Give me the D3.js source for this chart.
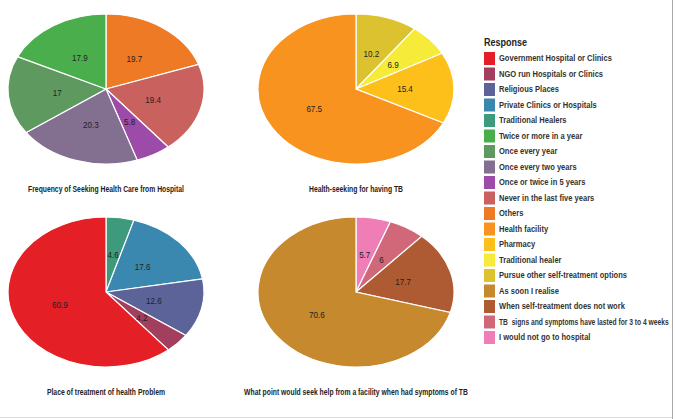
<!DOCTYPE html>
<html>
<head>
<meta charset="utf-8">
<script src="https://cdn.jsdelivr.net/npm/d3@7"></script>
<style>
    body { margin: 0; background: #fff; }
    svg { display: block; }
    text { font-family: "Liberation Sans", Arial, sans-serif; }
    .slice-label { font-size: 9.5px; fill: #222; }
    .pie-title { font-size: 8.5px; font-weight: bold; fill: #222; }
    .legend-title { font-size: 11px; font-weight: bold; fill: #222; }
    .legend-text { font-size: 8.5px; font-weight: bold; fill: #333; white-space: pre; }
</style>
</head>
<body>
<div class="chart"></div>
<script>
(function() {
    // legend categories, in legend order
    var responses = [
        "Government Hospital or Clinics",
        "NGO run Hospitals or Clinics",
        "Religious Places",
        "Private Clinics or Hospitals",
        "Traditional Healers",
        "Twice or more in a year",
        "Once every year",
        "Once every two years",
        "Once or twice in 5 years",
        "Never in the last five years",
        "Others",
        "Health facility",
        "Pharmacy",
        "Traditional healer",
        "Pursue other self-treatment options",
        "As soon I realise",
        "When self-treatment does not work",
        "TB  signs and symptoms have lasted for 3 to 4 weeks",
        "I would not go to hospital"
    ];
    var responseColors = [
        "#e41f26", "#a33f5e", "#5c6399", "#3a88b0", "#3e9a7d",
        "#4aae4d", "#5e9a60", "#836f90", "#9c4ba8", "#c9615e",
        "#ee7a26", "#f7931e", "#fdbf1a", "#f5eb38", "#ddc22f",
        "#c6892e", "#ae5a32", "#d0687a", "#ee7eb5"
    ];

    // chart 1: frequency of seeking health care
    var freqCategories = ["Twice or more in a year", "Once every year", "Once every two years",
        "Once or twice in 5 years", "Never in the last five years", "Others"];
    var freqValues = [17.9, 17, 20.3, 5.8, 19.4, 19.7];

    // chart 2: health-seeking for TB
    var tbCategories = ["Health facility", "Pharmacy", "Traditional healer", "Pursue other self-treatment options"];
    var tbValues = [67.5, 15.4, 6.9, 10.2];

    // chart 3: place of treatment
    var placeCategories = ["Government Hospital or Clinics", "NGO run Hospitals or Clinics",
        "Religious Places", "Private Clinics or Hospitals", "Traditional Healers"];
    var placeValues = [60.9, 4.2, 12.6, 17.6, 4.6];

    // chart 4: when seek help
    var pointCategories = ["As soon I realise", "When self-treatment does not work",
        "TB  signs and symptoms have lasted for 3 to 4 weeks", "I would not go to hospital"];
    var pointValues = [70.6, 17.7, 6, 5.7];

    var titles = [
        "Frequency of Seeking Health Care from Hospital",
        "Health-seeking for having TB",
        "Place of treatment of health Problem",
        "What point would seek help from a facility when had symptoms of TB"
    ];

    var width = 675, height = 419;
    var rx = 98, ry = 75;

    var color = d3.scaleOrdinal().domain(responses).range(responseColors);

    var svg = d3.select(".chart")
        .append("svg")
            .attr("width", width)
            .attr("height", height);

    var panels = [
        { cats: freqCategories, vals: freqValues, cx: 106, cy: 89, title: titles[0] },
        { cats: tbCategories, vals: tbValues, cx: 356, cy: 89, title: titles[1] },
        { cats: placeCategories, vals: placeValues, cx: 106, cy: 292, title: titles[2] },
        { cats: pointCategories, vals: pointValues, cx: 356, cy: 292, title: titles[3] }
    ];

    // ggplot-style: slices go clockwise from 12 o'clock in reverse factor order
    var pie = d3.pie().sort(null).value(function(d) { return d.value; });
    var arc = d3.arc().innerRadius(0).outerRadius(1);

    panels.forEach(function(p) {
        var rows = p.cats.map(function(c, i) { return { cat: c, value: p.vals[i] }; }).reverse();
        var arcs = pie(rows);

        var g = svg.append("g")
            .attr("transform", "translate(" + p.cx + "," + p.cy + ")");

        g.append("g")
            .attr("transform", "scale(" + rx + "," + ry + ")")
            .selectAll("path")
            .data(arcs)
            .enter().append("path")
                .attr("d", arc)
                .attr("fill", function(d) { return color(d.data.cat); })
                .attr("stroke", "#fff")
                .attr("stroke-width", 1.2)
                .attr("vector-effect", "non-scaling-stroke");

        // labels, squeezed a bit to look like a narrow face
        g.selectAll("g.slice-label")
            .data(arcs)
            .enter().append("g")
                .attr("transform", function(d) {
                    var c = arc.centroid(d);
                    return "translate(" + (c[0] * rx) + "," + (c[1] * ry) + ") scale(0.85,1)";
                })
            .append("text")
                .attr("class", "slice-label")
                .attr("dy", "0.35em")
                .attr("text-anchor", "middle")
                .text(function(d) { return d.data.value; });

        svg.append("g")
            .attr("transform", "translate(" + p.cx + "," + (p.cy + 103) + ") scale(0.8,1)")
            .append("text")
                .attr("class", "pie-title")
                .attr("text-anchor", "middle")
                .text(p.title);
    });

    // legend
    var legend = svg.append("g")
        .attr("transform", "translate(484,0)");

    legend.append("g")
        .attr("transform", "translate(0,46) scale(0.82,1)")
        .append("text")
            .attr("class", "legend-title")
            .text("Response");

    var items = legend.selectAll("g.item")
        .data(responses)
        .enter().append("g")
            .attr("class", "item")
            .attr("transform", function(d, i) { return "translate(0," + (52 + i * 15.5) + ")"; });

    items.append("rect")
        .attr("width", 11)
        .attr("height", 13)
        .attr("fill", function(d) { return color(d); });

    var maxTextWidth = 170;
    items.append("g")
        .append("text")
            .attr("class", "legend-text")
            .attr("dy", "0.35em")
            .text(function(d) { return d; })
            .each(function() {
                // squeeze like a narrow face, more if it would run past the frame
                var w = this.getComputedTextLength();
                var s = Math.min(0.89, maxTextWidth / w);
                d3.select(this.parentNode)
                    .attr("transform", "translate(15,6.5) scale(" + s + ",1)");
            });

    // frame lines at right and bottom edges
    svg.append("line")
        .attr("x1", 672.5).attr("x2", 672.5)
        .attr("y1", 0).attr("y2", height)
        .attr("stroke", "#aaa").attr("stroke-width", 1);
    svg.append("line")
        .attr("x1", 0).attr("x2", 672)
        .attr("y1", 417.5).attr("y2", 417.5)
        .attr("stroke", "#ddd").attr("stroke-width", 1);
})();
</script>
</body>
</html>
